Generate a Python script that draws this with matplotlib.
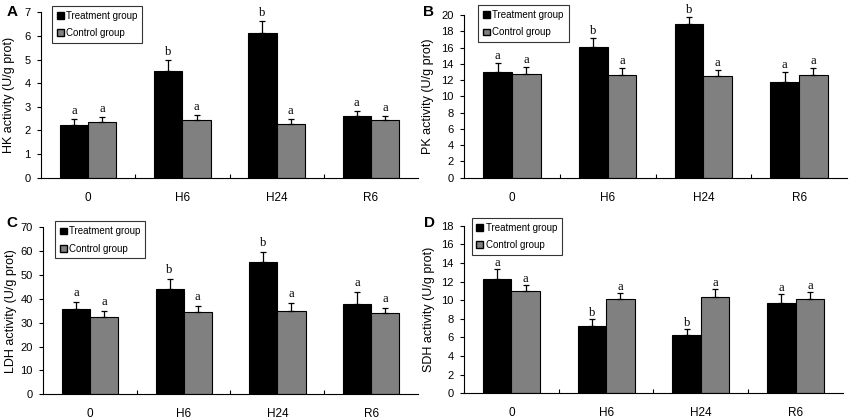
import numpy as np
import matplotlib
matplotlib.use('Agg')
import matplotlib.pyplot as plt
from matplotlib.patches import Patch

plt.rcParams['font.family'] = ['Liberation Sans', 'DejaVu Sans']

#categories
groups = ['0', 'H6', 'H24', 'R6']

#HK activity
hk_treat = [2.22, 4.53, 6.14, 2.60]
hk_treat_err = [0.28, 0.45, 0.50, 0.23]
hk_ctrl = [2.35, 2.43, 2.27, 2.43]
hk_ctrl_err = [0.22, 0.23, 0.20, 0.17]
hk_let_t = ['a', 'b', 'b', 'a']
hk_let_c = ['a', 'a', 'a', 'a']

#PK activity
pk_treat = [13.03, 16.1, 18.85, 11.8]
pk_treat_err = [1.03, 1.07, 0.86, 1.23]
pk_ctrl = [12.79, 12.66, 12.54, 12.66]
pk_ctrl_err = [0.81, 0.82, 0.70, 0.82]
pk_let_t = ['a', 'b', 'b', 'a']
pk_let_c = ['a', 'a', 'a', 'a']

#LDH activity
ldh_treat = [35.6, 44.3, 55.3, 37.9]
ldh_treat_err = [3.2, 3.9, 4.4, 4.9]
ldh_ctrl = [32.4, 34.4, 35.1, 34.1]
ldh_ctrl_err = [2.5, 2.8, 3.3, 2.2]
ldh_let_t = ['a', 'b', 'b', 'a']
ldh_let_c = ['a', 'a', 'a', 'a']

#SDH activity
sdh_treat = [12.31, 7.19, 6.26, 9.73]
sdh_treat_err = [1.07, 0.83, 0.65, 0.90]
sdh_ctrl = [11.02, 10.09, 10.38, 10.09]
sdh_ctrl_err = [0.61, 0.72, 0.86, 0.82]
sdh_let_t = ['a', 'b', 'b', 'a']
sdh_let_c = ['a', 'a', 'a', 'a']

W, H = 851, 420

#tag, ylabel, data..., ymax, step, axes rect (px: left, top, right, bottom),
#ylabel x, legend anchor, tag pos (px), gap of letters above error bars (px)
panels = [
    ('A', 'HK activity (U/g prot)', hk_treat, hk_treat_err, hk_ctrl, hk_ctrl_err,
     hk_let_t, hk_let_c, 7, 1, (41, 12.3, 418, 177.7), -0.068, (0.029, 1.04), (12, 12), 5),
    ('B', 'PK activity (U/g prot)', pk_treat, pk_treat_err, pk_ctrl, pk_ctrl_err,
     pk_let_t, pk_let_c, 20, 2, (464, 15, 847, 177.7), -0.078, (0.037, 1.06), (429, 12), 4),
    ('C', 'LDH activity (U/g prot)', ldh_treat, ldh_treat_err, ldh_ctrl, ldh_ctrl_err,
     ldh_let_t, ldh_let_c, 70, 10, (43, 227.3, 418, 394.3), -0.07, (0.032, 1.035), (12, 223), 6),
    ('D', 'SDH activity (U/g prot)', sdh_treat, sdh_treat_err, sdh_ctrl, sdh_ctrl_err,
     sdh_let_t, sdh_let_c, 18, 2, (464, 225.7, 843, 393.3), -0.077, (0.02, 1.048), (430, 223), 3),
]

fig = plt.figure(figsize=(W / 100, H / 100), dpi=100)

x = np.arange(len(groups))
w = 0.3
ekw = dict(ecolor='black', elinewidth=0.9, capsize=2.5, capthick=0.9)
for tag, ylab, t, te, c, ce, lt, lc, ymax, step, px, ylx, lanc, tpos, gap in panels:
    l, tp, r, b = px
    ax = fig.add_axes([l / W, 1 - b / H, (r - l) / W, (b - tp) / H])
    xt = x + 0.35
    xc = x + 0.65
    ax.bar(xt, t, w, color='black', edgecolor='black', linewidth=0.8,
           yerr=[np.zeros(len(t)), te], error_kw=ekw)
    ax.bar(xc, c, w, color='#808080', edgecolor='black', linewidth=0.8,
           yerr=[np.zeros(len(c)), ce], error_kw=ekw)
    off = gap / (b - tp) * ymax
    for i in range(len(groups)):
        ax.text(xt[i], t[i] + te[i] + off, lt[i], ha='center', va='baseline',
                family='Liberation Serif', fontsize=9, clip_on=False)
        ax.text(xc[i], c[i] + ce[i] + off, lc[i], ha='center', va='baseline',
                family='Liberation Serif', fontsize=9, clip_on=False)
    ax.set_xlim(0, 4)
    ax.set_ylim(0, ymax)
    ax.set_yticks(np.arange(0, ymax + step / 2, step))
    ax.set_xticks(x + 0.5)
    ax.set_xticklabels(groups, fontsize=8.5)
    ax.set_xticks([1, 2, 3], minor=True)
    ax.tick_params(axis='x', which='major', length=0, pad=10)
    ax.tick_params(axis='x', which='minor', direction='in', length=3, width=0.8)
    ax.tick_params(axis='y', direction='out', length=3, width=0.8, labelsize=8, pad=4.5)
    for s in ['top', 'right']:
        ax.spines[s].set_visible(False)
    ax.spines['left'].set_linewidth(0.8)
    ax.spines['bottom'].set_linewidth(0.8)
    ax.set_ylabel(ylab, fontsize=9)
    ax.yaxis.set_label_coords(ylx, 0.5)
    handles = [Patch(facecolor='black', edgecolor='black', label='Treatment group'),
               Patch(facecolor='#808080', edgecolor='black', label='Control group')]
    leg = ax.legend(handles=handles, loc='upper left', bbox_to_anchor=lanc, borderaxespad=0,
                    fontsize=7, frameon=True, fancybox=False, handlelength=0.7,
                    handleheight=0.7, handletextpad=0.25, borderpad=0.5, labelspacing=0.75)
    leg.get_frame().set_edgecolor('black')
    leg.get_frame().set_linewidth(0.8)
    fig.text(tpos[0] / W, 1 - tpos[1] / H, tag, fontsize=11, fontweight='bold',
             ha='center', va='center')

plt.savefig('out.png', dpi=100)
